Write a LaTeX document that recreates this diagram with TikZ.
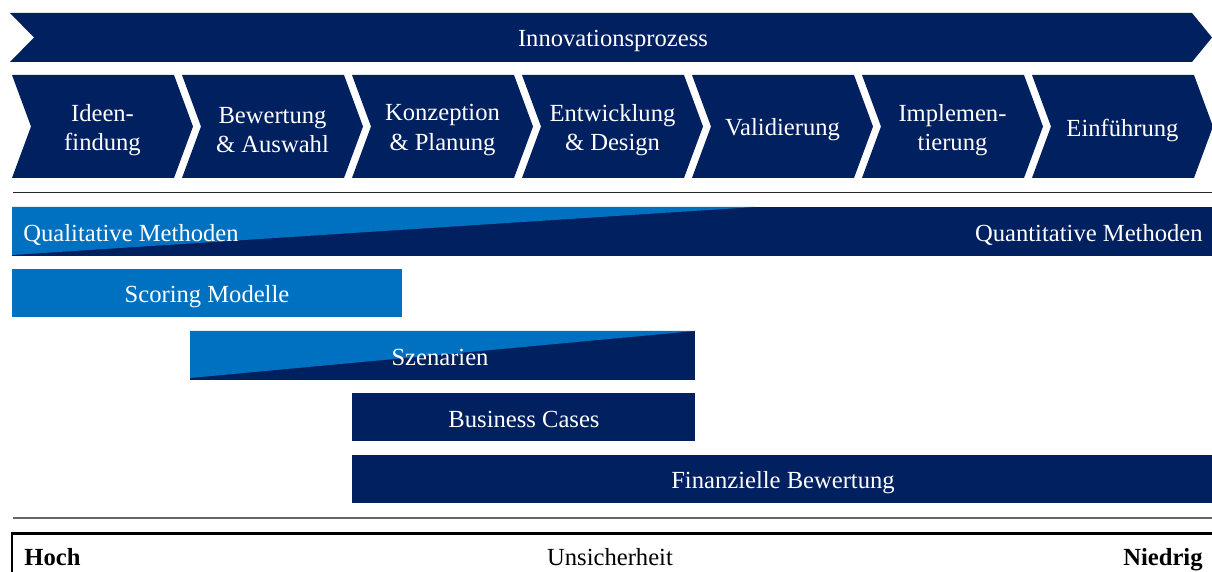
\documentclass[tikz,border=0pt]{standalone}
\usepackage{fontspec}
\setmainfont{Liberation Serif}
\definecolor{navy}{HTML}{002060}
\definecolor{lblue}{HTML}{0070C0}
\begin{document}
\begin{tikzpicture}[x=0.5pt,y=-0.5pt,
  every node/.style={font=\fontsize{12.3pt}{14.6pt}\selectfont, inner sep=0pt},
  wtext/.style={text=white, align=center},
  btext/.style={text=black}]
\useasboundingbox (0,0) rectangle (1212,572);
% banner
\fill[navy] (10,13) -- (1192,13) -- (1212,37.5) -- (1192,62) -- (10,62) -- (34,37.5) -- cycle;
\node[wtext] (banner) at (613,41) {Innovationsprozess};
% chevrons
\foreach \t [count=\k from 0] in {{Ideen-\\findung},{Bewertung\\\& Auswahl},{Konzeption\\\& Planung},{Entwicklung\\\& Design},{Validierung},{Implemen-\\tierung},{Einführung}}{
  \pgfmathsetmacro{\L}{12+170*\k}
  \fill[navy] (\L,75) -- ({\L+162},75) -- ({\L+181},126.5) -- ({\L+162},178) -- (\L,178) -- ({\L+19},126.5) -- cycle;
  \node[wtext] (c\k) at ({\L+90.5},130) {\t};
}
\draw[line width=0.8pt, black!85] (13,192.5) -- (1212,192.5);
% qualitative / quantitative
\fill[navy] (12,207) rectangle (1212,256);
\fill[lblue] (12,207) -- (755,207) -- (12,255) -- cycle;
\node[wtext, anchor=west] (qual) at (23,234.5) {Qualitative Methoden};
\node[wtext, anchor=east] (quant) at (1203,234.5) {Quantitative Methoden};
% scoring
\fill[lblue] (12,269) rectangle (402,317);
\node[wtext] (scoring) at (207,296.5) {Scoring Modelle};
% szenarien
\fill[navy] (190,331) rectangle (695,380);
\fill[lblue] (190,331) -- (695,331) -- (190,378) -- cycle;
\node[wtext] (szen) at (440,357.5) {Szenarien};
% business cases
\fill[navy] (352,393) rectangle (695,441);
\node[wtext] (bc) at (524,419.5) {Business Cases};
% finanzielle
\fill[navy] (352,455) rectangle (1212,503);
\node[wtext] (fin) at (783,482.5) {Finanzielle Bewertung};
\draw[line width=0.7pt, black!60] (13,518) -- (1212,518);
% uncertainty box
\draw[line width=1.2pt, black] (12,600) -- (12,533.5) -- (1220,533.5);
\node[btext, anchor=base west] (hoch) at (24,566) {\bfseries Hoch};
\node[btext, anchor=base] (uns) at (610,566) {Unsicherheit};
\node[btext, anchor=base east] (nied) at (1203,566) {\bfseries Niedrig};
\end{tikzpicture}
\end{document}
